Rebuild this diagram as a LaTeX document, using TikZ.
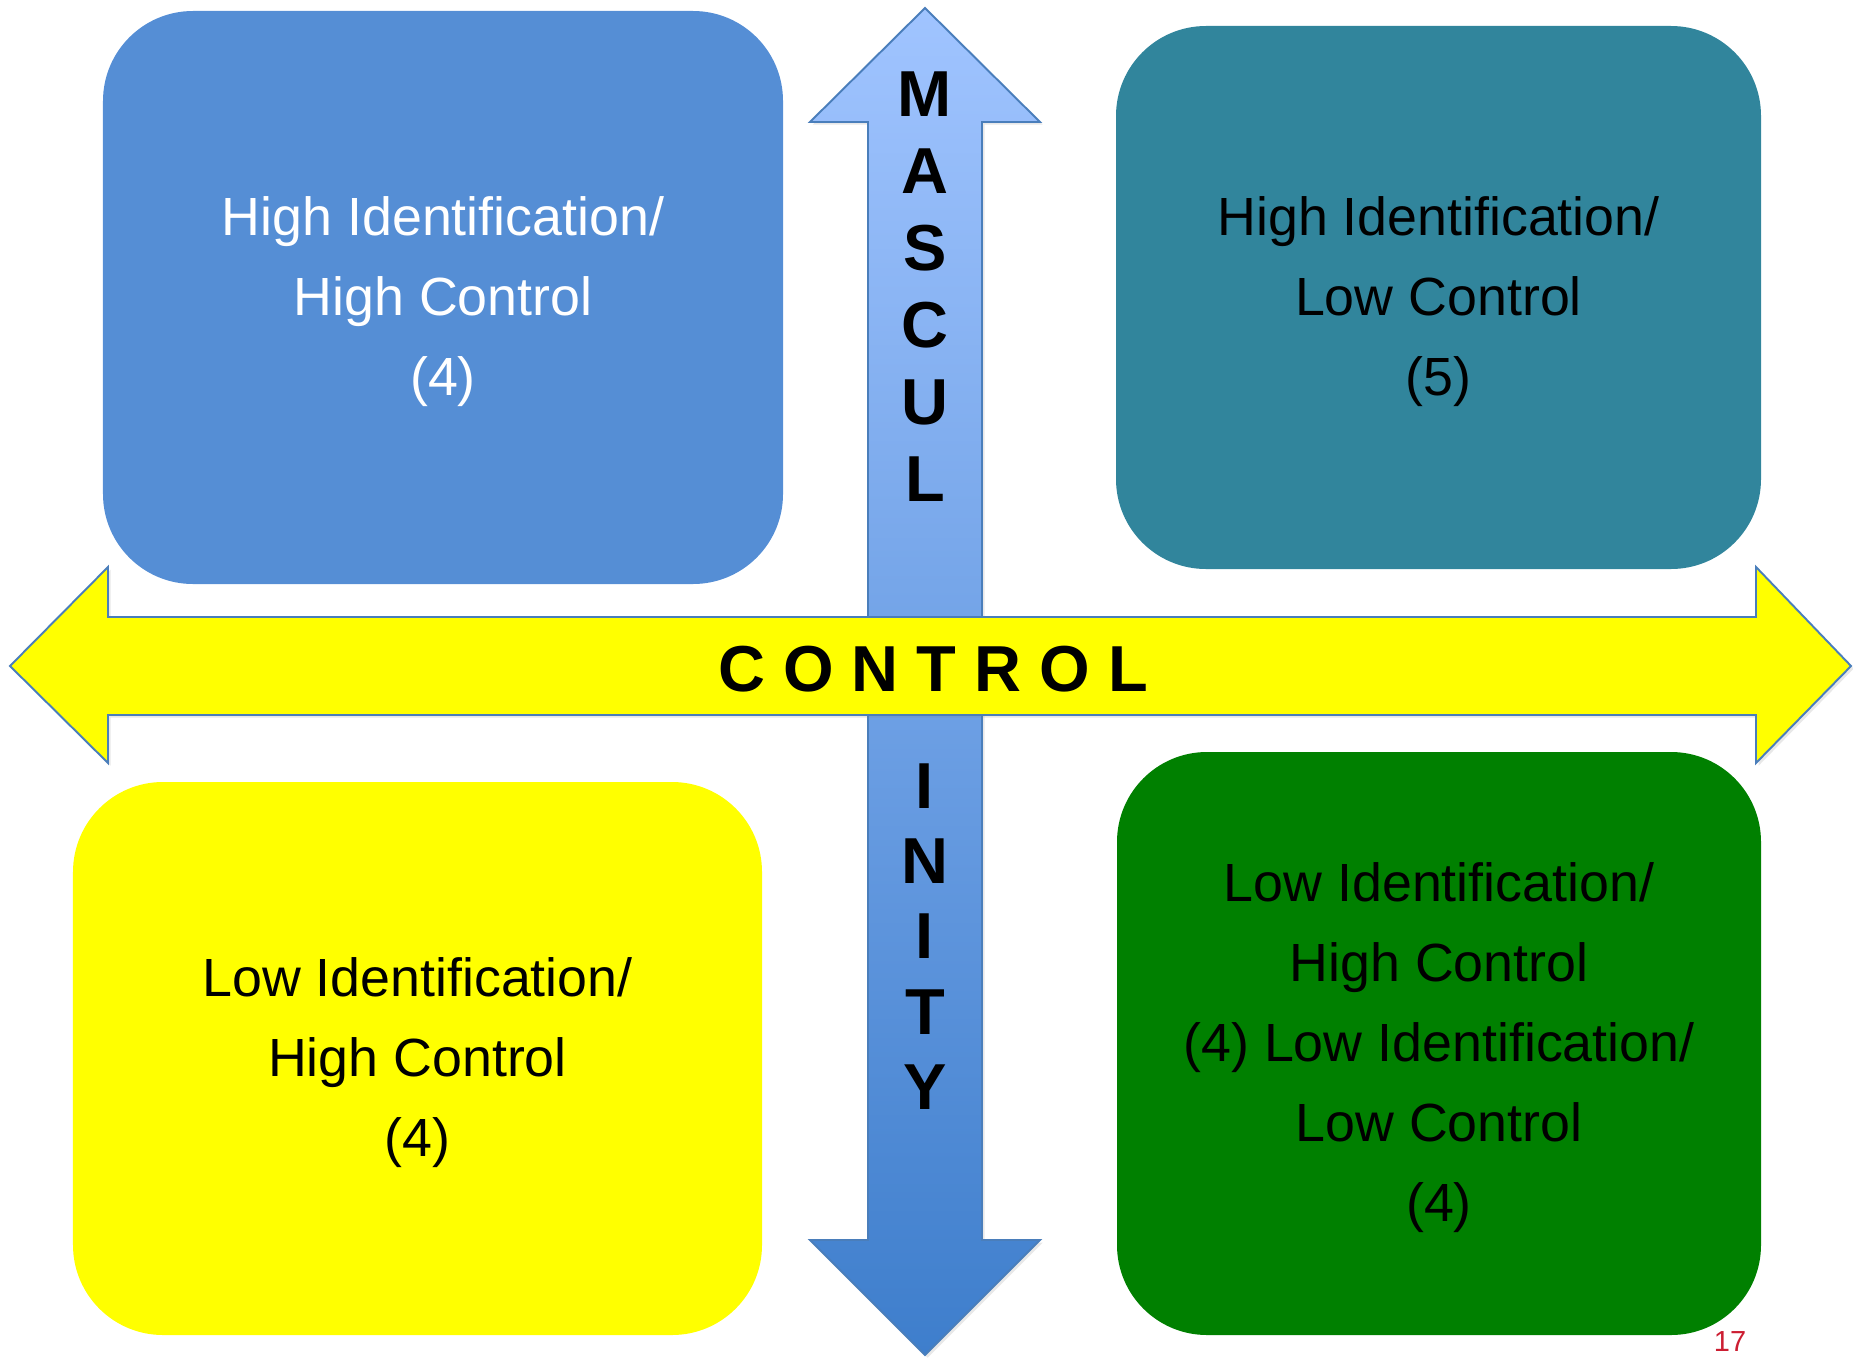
\documentclass[tikz,border=0pt]{standalone}
\usepackage{fontspec}
\setmainfont{Liberation Sans}
\usetikzlibrary{shadows}
\definecolor{quadblue}{RGB}{85,142,213}
\definecolor{quadteal}{RGB}{49,133,156}
\definecolor{quadyellow}{RGB}{255,255,0}
\definecolor{quadgreen}{RGB}{0,128,0}
\definecolor{arrowline}{RGB}{74,126,187}
\definecolor{masctop}{RGB}{160,196,255}
\definecolor{mascbottom}{RGB}{62,126,204}
\definecolor{pagered}{RGB}{204,30,50}
\tikzset{
	quad/.style={rounded corners=1.8cm, inner sep=0pt, align=center,
		font=\fontsize{30.6}{45.5}\selectfont},
	axisletter/.style={inner sep=0pt, font=\fontsize{37}{40}\selectfont\bfseries},
	bigarrow/.style={draw=arrowline, line width=1.1pt, line join=miter,
		drop shadow={shadow xshift=1.5pt, shadow yshift=-1.5pt, opacity=0.18}}
}
\newcommand{\drawquad}[7]{
	\pgfmathsetmacro{\w}{(#4-#2)*0.02}
	\pgfmathsetmacro{\h}{(#5-#3)*0.02}
	\pgfmathsetmacro{\cx}{(#2+#4)/2}
	\pgfmathsetmacro{\cy}{(#3+#5)/2}
	\node[quad, minimum width=\w cm, minimum height=\h cm, #6] (#1) at (\cx,\cy) {\rule{0pt}{26.5pt}#7};
}
\newcommand{\drawletters}[4]{
	\foreach \l [count=\i] in {#1} {
		\pgfmathsetmacro{\y}{#2 + #3*(\i-1)}
		\node[axisletter] (#4\i) at (925,\y) {\l};
	}
}

\begin{document}
\begin{tikzpicture}[x=0.02cm, y=-0.02cm]
	\useasboundingbox (0,0) rectangle (1853,1359);
	\drawquad{hihc}{103}{11}{783}{584}{fill=quadblue, text=white}{High Identification/\\High Control\\(4)}
	\drawquad{hilc}{1116}{26}{1761}{569}{fill=quadteal}{High Identification/\\Low Control\\(5)}
	\drawquad{lihc}{73}{782}{762}{1335}{fill=quadyellow}{Low Identification/\\High Control\\(4)}
	\drawquad{lilc}{1117}{752}{1761}{1335}{fill=quadgreen}{Low Identification/\\High Control\\(4) Low Identification/\\Low Control\\(4)}
	\draw[bigarrow, top color=masctop, bottom color=mascbottom]
		(925,8) -- (1040,122) -- (982,122) -- (982,1240) -- (1040,1240) -- (925,1355)
		-- (810,1240) -- (868,1240) -- (868,122) -- (810,122) -- cycle;
	\draw[bigarrow, fill=quadyellow]
		(10,666) -- (108,567) -- (108,617) -- (1756,617) -- (1756,567) -- (1851,666)
		-- (1756,763) -- (1756,715) -- (108,715) -- (108,763) -- cycle;
	\drawletters{M,A,S,C,U,L}{94.5}{77}{masc}
	\drawletters{I,N,I,T,Y}{786}{75.3}{inity}
	\node[axisletter, anchor=base] (control) at (933,691) {C O N T R O L};
	\node[text=pagered, font=\fontsize{16.5}{18}\selectfont, inner sep=0pt] (page) at (1730,1342) {17};
\end{tikzpicture}
\end{document}
